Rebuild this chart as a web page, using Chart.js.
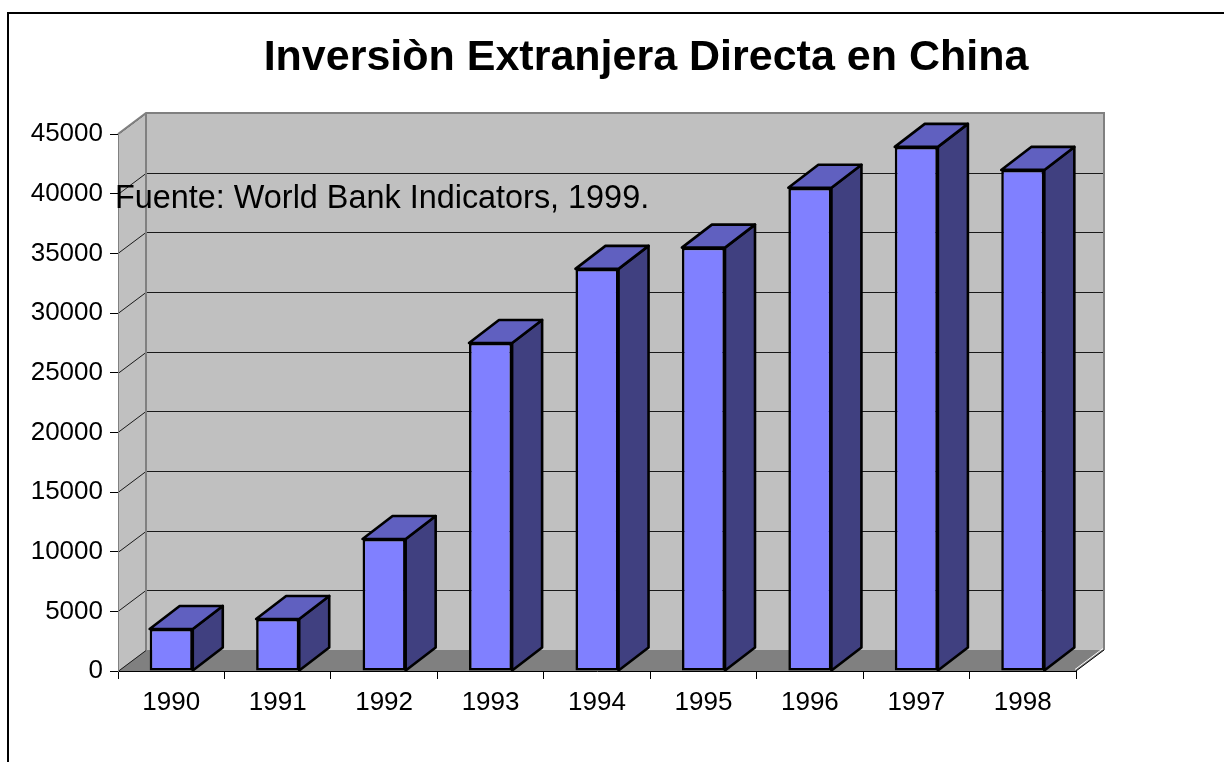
<!DOCTYPE html>
<html>
<head>
<meta charset="utf-8">
<title>Inversiòn Extranjera Directa en China</title>
<script src="https://cdn.jsdelivr.net/npm/chart.js@4"></script>
<style>
    body { margin: 0; background: #fff; }
    canvas { display: block; }
</style>
</head>
<body>
<canvas id="fdiChart" width="1224" height="762"></canvas>
<script>
const years = ['1990', '1991', '1992', '1993', '1994', '1995', '1996', '1997', '1998'];
const inversion = [3520, 4360, 11060, 27490, 33700, 35480, 40490, 43920, 41990];
const yMin = 0;
const yMax = 45000;
const yStep = 5000;

const titulo = 'Inversiòn Extranjera Directa en China';
const fuente = 'Fuente: World Bank Indicators, 1999.';

const FONT = '"Liberation Sans", Arial, sans-serif';

// profundidad del efecto 3D
const wallDepth = { x: 28, y: -21 };
const barDepth = { x: 30, y: -23 };

const fondo3d = {
    id: 'fondo3d',
    beforeDraw(chart) {
        const ctx = chart.ctx;
        const { left, right, top, bottom } = chart.chartArea;
        const dx = wallDepth.x, dy = wallDepth.y;
        ctx.save();
        ctx.fillStyle = '#fff';
        ctx.fillRect(0, 0, chart.width, chart.height);

        // marco exterior
        ctx.fillStyle = '#000';
        ctx.fillRect(7, 12, chart.width, 2);
        ctx.fillRect(7, 12, 2, chart.height);

        // pared lateral
        ctx.beginPath();
        ctx.moveTo(left, top);
        ctx.lineTo(left + dx, top + dy);
        ctx.lineTo(left + dx, bottom + dy);
        ctx.lineTo(left, bottom);
        ctx.closePath();
        ctx.fillStyle = '#c0c0c0';
        ctx.fill();

        // pared del fondo
        ctx.fillRect(left + dx, top + dy, right - left, bottom - top);

        // piso
        ctx.beginPath();
        ctx.moveTo(left, bottom);
        ctx.lineTo(left + dx, bottom + dy);
        ctx.lineTo(right + dx, bottom + dy);
        ctx.lineTo(right, bottom);
        ctx.closePath();
        ctx.fillStyle = '#808080';
        ctx.fill();

        // lineas de division
        const yScale = chart.scales.y;
        ctx.lineWidth = 1;
        for (let v = yMin; v <= yMax; v += yStep) {
            const y = Math.round(yScale.getPixelForValue(v)) + 0.5;
            ctx.strokeStyle = '#1a1a1a';
            ctx.beginPath();
            ctx.moveTo(left, y);
            ctx.lineTo(left + dx, y + dy);
            if (v > yMin && v < yMax) ctx.lineTo(right + dx, y + dy);
            ctx.stroke();
        }

        // bordes grises de las paredes
        ctx.strokeStyle = '#808080';
        ctx.lineWidth = 2;
        ctx.beginPath();
        ctx.moveTo(left, top);
        ctx.lineTo(left + dx, top + dy);
        ctx.lineTo(right + dx, top + dy);
        ctx.lineTo(right + dx, bottom + dy);
        ctx.moveTo(left + dx, top + dy);
        ctx.lineTo(left + dx, bottom + dy);
        ctx.stroke();

        // borde derecho del piso
        ctx.lineWidth = 1;
        ctx.strokeStyle = '#000';
        ctx.beginPath();
        ctx.moveTo(right, bottom);
        ctx.lineTo(right + dx, bottom + dy);
        ctx.stroke();
        ctx.strokeStyle = '#fff';
        ctx.beginPath();
        ctx.moveTo(right - 1, bottom - 1.5);
        ctx.lineTo(right + dx - 1, bottom + dy - 1.5);
        ctx.stroke();
        ctx.restore();
    },
    beforeDatasetsDraw(chart) {
        const ctx = chart.ctx;
        const dx = barDepth.x, dy = barDepth.y;
        ctx.save();
        ctx.lineWidth = 2.6;
        ctx.lineJoin = 'round';
        ctx.strokeStyle = '#000';
        chart.getDatasetMeta(0).data.forEach(bar => {
            const { x, y, base, width } = bar.getProps(['x', 'y', 'base', 'width'], true);
            const l = x - width / 2;
            const r = x + width / 2;
            // cara lateral
            ctx.beginPath();
            ctx.moveTo(r, y);
            ctx.lineTo(r + dx, y + dy);
            ctx.lineTo(r + dx, base + dy);
            ctx.lineTo(r, base);
            ctx.closePath();
            ctx.fillStyle = '#404080';
            ctx.fill();
            ctx.stroke();
            // cara superior
            ctx.beginPath();
            ctx.moveTo(l, y);
            ctx.lineTo(l + dx, y + dy);
            ctx.lineTo(r + dx, y + dy);
            ctx.lineTo(r, y);
            ctx.closePath();
            ctx.fillStyle = '#6060c0';
            ctx.fill();
            ctx.stroke();
        });
        ctx.restore();
    },
    afterDraw(chart) {
        const ctx = chart.ctx;
        ctx.save();
        ctx.fillStyle = '#000';
        ctx.textBaseline = 'alphabetic';
        ctx.textAlign = 'center';
        ctx.font = 'bold 43px ' + FONT;
        ctx.fillText(titulo, 646, 70);
        ctx.textAlign = 'left';
        ctx.font = '32.4px ' + FONT;
        ctx.fillText(fuente, 115, 208);
        ctx.restore();
    }
};

const ctx = document.getElementById('fdiChart').getContext('2d');

new Chart(ctx, {
    type: 'bar',
    data: {
        labels: years,
        datasets: [{
            label: 'Inversiòn',
            data: inversion,
            backgroundColor: '#8080ff',
            borderColor: '#000',
            borderWidth: 2.6,
            borderSkipped: false,
            barPercentage: 0.405,
            categoryPercentage: 1.0
        }]
    },
    options: {
        responsive: false,
        animation: false,
        layout: {
            padding: { left: 0, top: 134, right: 148, bottom: 0 }
        },
        plugins: {
            legend: { display: false },
            title: { display: false },
            tooltip: { enabled: false }
        },
        scales: {
            x: {
                afterFit: scale => { scale.height = 91; },
                grid: { offset: true, drawOnChartArea: false, color: '#000', tickLength: 8 },
                border: { color: '#000', width: 1 },
                ticks: { color: '#000', font: { family: FONT, size: 26 }, padding: 8 }
            },
            y: {
                min: yMin,
                max: yMax,
                afterFit: scale => { scale.width = 118; },
                grid: { drawOnChartArea: false, color: '#000', tickLength: 8 },
                border: { color: '#808080', width: 1 },
                ticks: {
                    stepSize: yStep,
                    color: '#000',
                    font: { family: FONT, size: 26 },
                    padding: 7,
                    callback: value => String(value)
                }
            }
        }
    },
    plugins: [fondo3d]
});
</script>
</body>
</html>
